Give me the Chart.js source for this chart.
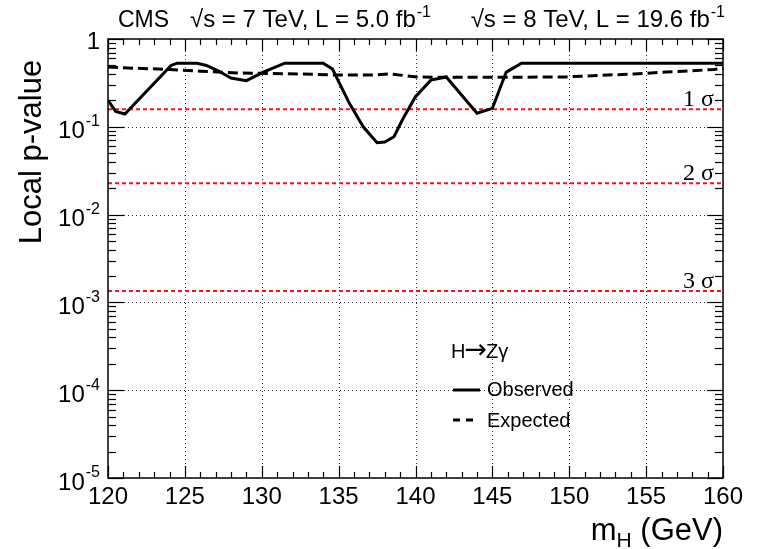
<!DOCTYPE html>
<html>
<head>
<meta charset="utf-8">
<script src="https://cdn.jsdelivr.net/npm/chart.js@4/dist/chart.umd.min.js"></script>
<style>
  html, body { margin: 0; padding: 0; background: #ffffff; }
  canvas { display: block; }
</style>
</head>
<body>
<canvas id="c" width="759" height="549"></canvas>
<script>
// Local p-value scan for H -> Z gamma
const massObserved = [120, 120.5, 121.1, 124.1, 124.5, 125.8, 126.4, 127.1, 128.0, 129.0,
                      130.1, 131.5, 134.0, 134.6, 135.7, 136.6, 137.5, 138.0, 138.6, 139.2,
                      140.0, 141.0, 142.0, 144.0, 145.0, 145.9, 146.9, 160];
const pObserved    = [0.20, 0.15, 0.14, 0.50, 0.53, 0.53, 0.50, 0.44, 0.36, 0.335,
                      0.42, 0.53, 0.53, 0.455, 0.185, 0.10, 0.066, 0.067, 0.077, 0.125,
                      0.22, 0.34, 0.37, 0.143, 0.162, 0.42, 0.53, 0.53];

const massExpected = [120, 121, 124, 126, 128.6, 130.3, 132.5, 134.6, 137.5, 138.3,
                      140.1, 142, 145.5, 149.8, 152, 154.2, 156.3, 158, 159.4, 160];
const pExpected    = [0.48, 0.47, 0.45, 0.43, 0.41, 0.405, 0.40, 0.39, 0.39, 0.40,
                      0.37, 0.366, 0.366, 0.37, 0.385, 0.40, 0.42, 0.435, 0.45, 0.46];

// one-sided p-values of the 1, 2, 3 sigma reference lines
const sigmaNames   = ['1 σ', '2 σ', '3 σ'];
const sigmaPValues = [0.1587, 0.02275, 0.00135];

const xTickValues    = [120, 125, 130, 135, 140, 145, 150, 155, 160];
const yTickExponents = [0, -1, -2, -3, -4, -5];

const channelLabel  = ['H', '→', 'Zγ'];
const seriesNames   = ['Observed', 'Expected'];
const headerCMS     = 'CMS';
const headerLumi7   = ['√s = 7 TeV, L = 5.0 fb', '-1'];
const headerLumi8   = ['√s = 8 TeV, L = 19.6 fb', '-1'];
const xTitle        = ['m', 'H', ' (GeV)'];
const yTitle        = 'Local p-value';

const SANS  = '"Liberation Sans", Arial, Helvetica, sans-serif';
const SERIF = '"Liberation Serif", "Times New Roman", serif';
const f = (sz, fam) => sz + 'px ' + (fam || SANS);

const toPoints = (xs, ys) => xs.map((m, i) => ({ x: m, y: ys[i] }));

const datasets = [
  {
    label: seriesNames[0],
    data: toPoints(massObserved, pObserved),
    borderColor: '#000', borderWidth: 3, borderDash: [],
    pointRadius: 0, tension: 0, fill: false, order: 1
  },
  {
    label: seriesNames[1],
    data: toPoints(massExpected, pExpected),
    borderColor: '#000', borderWidth: 3, borderDash: [10, 5],
    pointRadius: 0, tension: 0, fill: false, order: 2
  }
];
sigmaPValues.forEach((p, i) => {
  datasets.push({
    label: sigmaNames[i],
    data: [{ x: xTickValues[0], y: p }, { x: xTickValues[xTickValues.length - 1], y: p }],
    borderColor: '#ff1010', borderWidth: 2, borderDash: [4, 3],
    pointRadius: 0, tension: 0, fill: false, order: 3
  });
});

function hline(ctx, x1, x2, y) { ctx.beginPath(); ctx.moveTo(x1, y); ctx.lineTo(x2, y); ctx.stroke(); }
function vline(ctx, x, y1, y2) { ctx.beginPath(); ctx.moveTo(x, y1); ctx.lineTo(x, y2); ctx.stroke(); }

function supWidth(ctx, base, sup, size, supSize) {
  ctx.font = f(size); const w = ctx.measureText(base).width;
  ctx.font = f(supSize); return w + 1 + ctx.measureText(sup).width;
}
// text with a raised exponent, drawn from the left edge at baseline y
function textWithSup(ctx, base, sup, x, y, size, supSize, raise) {
  ctx.textAlign = 'left'; ctx.textBaseline = 'alphabetic';
  ctx.font = f(size); ctx.fillText(base, x, y);
  const w = ctx.measureText(base).width;
  ctx.font = f(supSize); ctx.fillText(sup, x + w + 1, y - raise);
}

const decorations = {
  id: 'decorations',
  beforeDatasetsDraw(chart) {
    const { ctx, chartArea: a, scales: { x, y } } = chart;
    ctx.save();
    ctx.strokeStyle = '#333'; ctx.lineWidth = 1; ctx.setLineDash([1, 3]);
    xTickValues.slice(1, -1).forEach(v => {
      const px = Math.round(x.getPixelForValue(v)) + 0.5;
      vline(ctx, px, a.top, a.bottom);
    });
    yTickExponents.slice(1, -1).forEach(e => {
      const py = Math.round(y.getPixelForValue(Math.pow(10, e))) + 0.5;
      hline(ctx, a.left, a.right, py);
    });
    ctx.restore();
  },
  afterDraw(chart) {
    const { ctx, chartArea: a, scales: { x, y } } = chart;
    ctx.save();
    ctx.fillStyle = '#000'; ctx.strokeStyle = '#000'; ctx.setLineDash([]);

    // frame
    ctx.lineWidth = 1.5;
    ctx.strokeRect(a.left, a.top, a.right - a.left, a.bottom - a.top);

    // inward ticks on x (bottom and top)
    ctx.lineWidth = 1.2;
    const xMin = xTickValues[0], xMax = xTickValues[xTickValues.length - 1];
    for (let m = xMin; m <= xMax; m += 1) {
      const major = xTickValues.includes(m);
      const len = major ? 12 : 6;
      const px = Math.round(x.getPixelForValue(m)) + 0.5;
      vline(ctx, px, a.bottom, a.bottom - len);
      vline(ctx, px, a.top, a.top + len);
    }
    // inward ticks on y (left and right), log decades with 2..9 minors
    yTickExponents.forEach(e => {
      for (let k = 1; k <= 9; k++) {
        const v = k * Math.pow(10, e);
        if (v > 1.0001) continue;
        const len = k === 1 ? 16 : 8;
        const py = Math.round(y.getPixelForValue(v)) + 0.5;
        hline(ctx, a.left, a.left + len, py);
        hline(ctx, a.right, a.right - len, py);
      }
    });

    // x tick labels
    ctx.font = f(24); ctx.textAlign = 'center'; ctx.textBaseline = 'middle';
    xTickValues.forEach(v => ctx.fillText(String(v), x.getPixelForValue(v), a.bottom + 19));

    // y tick labels (powers of ten)
    const rightEdge = a.left - 8;
    yTickExponents.forEach(e => {
      const py = y.getPixelForValue(Math.pow(10, e));
      if (e === 0) {
        ctx.font = f(24); ctx.textAlign = 'right'; ctx.textBaseline = 'middle';
        ctx.fillText('1', rightEdge, py + 3);
        return;
      }
      const sup = String(e);
      ctx.font = f(16); ctx.textAlign = 'right'; ctx.textBaseline = 'middle';
      const sw = ctx.measureText(sup).width;
      ctx.fillText(sup, rightEdge, py - 5);
      ctx.font = f(24);
      ctx.fillText('10', rightEdge - sw - 1, py + 5);
    });

    // axis titles
    ctx.save();
    ctx.translate(32, 152); ctx.rotate(-Math.PI / 2);
    ctx.font = f(31); ctx.textAlign = 'center'; ctx.textBaseline = 'middle';
    ctx.fillText(yTitle, 0, 0);
    ctx.restore();

    ctx.textAlign = 'left'; ctx.textBaseline = 'alphabetic';
    ctx.font = f(31); const w0 = ctx.measureText(xTitle[0]).width;
    ctx.font = f(21); const w1 = ctx.measureText(xTitle[1]).width;
    ctx.font = f(31); const w2 = ctx.measureText(xTitle[2]).width;
    let tx = a.right - (w0 + w1 + w2);
    const ty = 540;
    ctx.font = f(31); ctx.fillText(xTitle[0], tx, ty); tx += w0;
    ctx.font = f(21); ctx.fillText(xTitle[1], tx, ty + 7); tx += w1;
    ctx.font = f(31); ctx.fillText(xTitle[2], tx, ty);

    // header
    ctx.font = f(23); ctx.fillText(headerCMS, 118, 27);
    textWithSup(ctx, headerLumi7[0], headerLumi7[1], 190, 27, 24, 16, 10);
    const w8 = supWidth(ctx, headerLumi8[0], headerLumi8[1], 24, 16);
    textWithSup(ctx, headerLumi8[0], headerLumi8[1], a.right + 2 - w8, 27, 24, 16, 10);

    // sigma labels
    ctx.font = f(24, SERIF); ctx.textAlign = 'right'; ctx.textBaseline = 'alphabetic';
    sigmaPValues.forEach((p, i) => {
      ctx.fillText(sigmaNames[i], a.right - 9, y.getPixelForValue(p) - 3);
    });

    // legend
    ctx.textAlign = 'left'; ctx.textBaseline = 'middle';
    let lx = 451;
    ctx.font = f(20); ctx.fillText(channelLabel[0], lx, 352); lx += ctx.measureText(channelLabel[0]).width;
    ctx.font = f(27, '"DejaVu Sans", sans-serif'); ctx.fillText(channelLabel[1], lx - 1, 351); lx += ctx.measureText(channelLabel[1]).width - 2;
    ctx.font = f(20); ctx.fillText(channelLabel[2], lx, 352);
    const obs = chart.data.datasets[0], exp = chart.data.datasets[1];
    ctx.lineWidth = obs.borderWidth; ctx.setLineDash([]);
    hline(ctx, 453, 480, 390);
    ctx.fillText(obs.label, 487, 390);
    ctx.lineWidth = exp.borderWidth; ctx.setLineDash([7, 6]);
    hline(ctx, 453, 473, 420);
    ctx.setLineDash([]);
    ctx.fillText(exp.label, 487, 421);

    ctx.restore();
  }
};

new Chart(document.getElementById('c'), {
  type: 'line',
  data: { datasets },
  options: {
    responsive: false,
    animation: false,
    devicePixelRatio: 1,
    layout: { padding: { left: 108, right: 36, top: 39, bottom: 71 } },
    plugins: { legend: { display: false }, tooltip: { enabled: false } },
    scales: {
      x: { type: 'linear', min: 120, max: 160, display: false },
      y: { type: 'logarithmic', min: 1e-5, max: 1, display: false }
    }
  },
  plugins: [decorations]
});
</script>
</body>
</html>
